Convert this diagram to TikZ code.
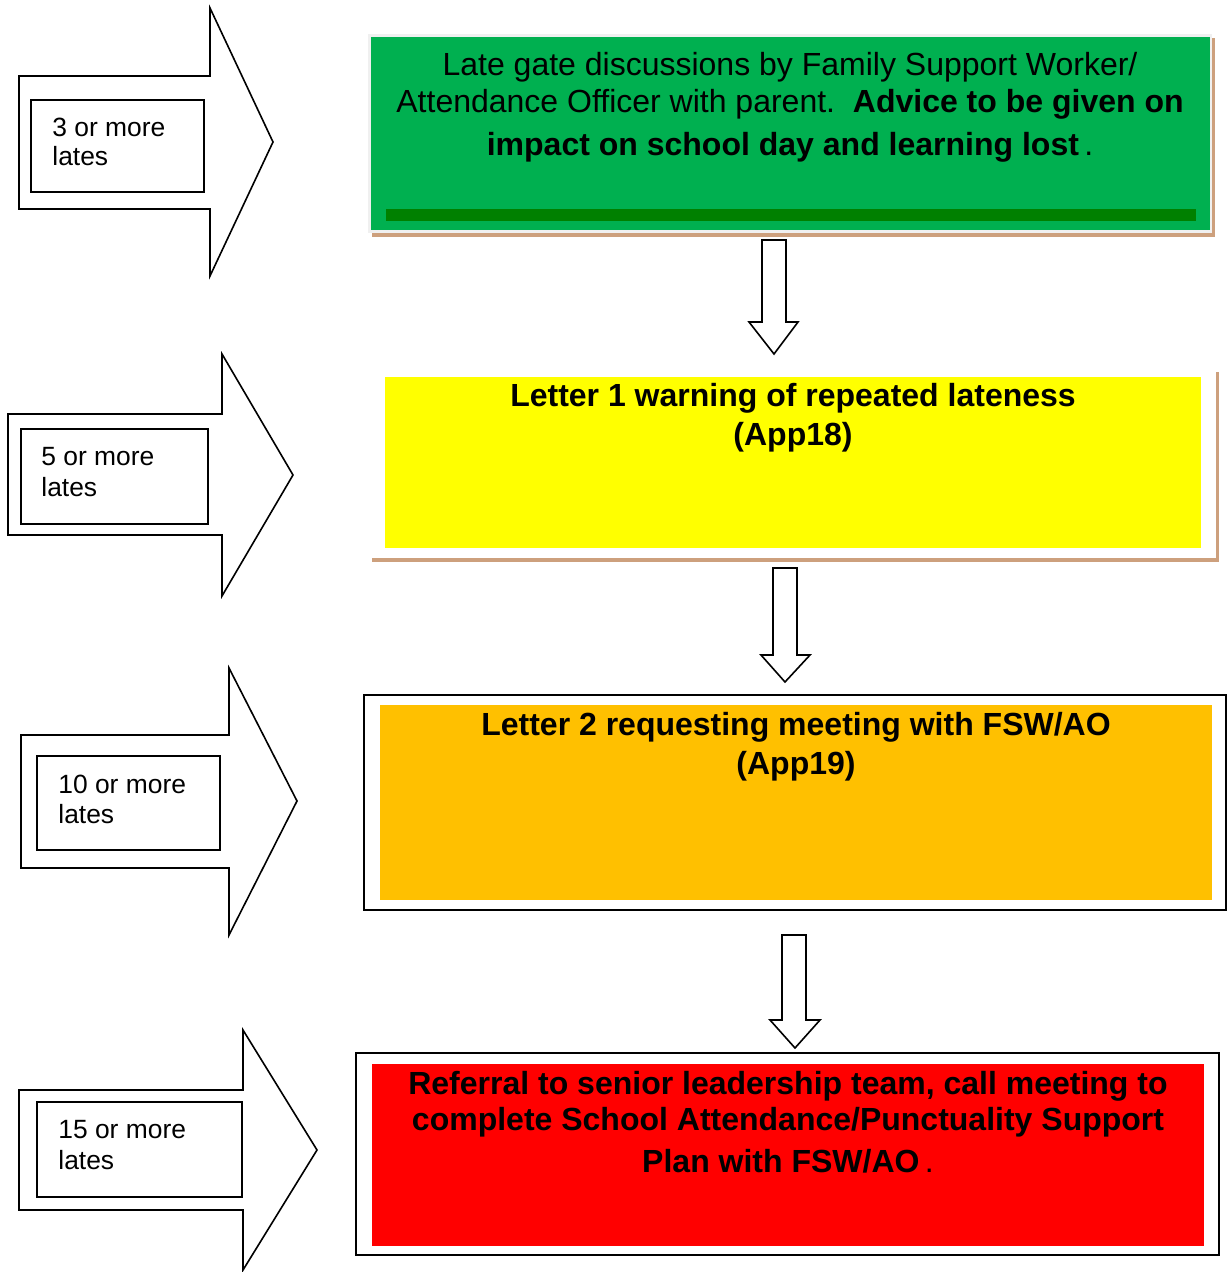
\documentclass[tikz,border=0pt]{standalone}
\usepackage{fontspec}
\setmainfont{Liberation Sans}
\definecolor{gfill}{HTML}{00B050}
\definecolor{gbar}{HTML}{008000}
\definecolor{tan}{HTML}{CDA07D}
\definecolor{ofill}{HTML}{FFC000}
\definecolor{yfill}{HTML}{FFFF00}
\begin{document}
\begin{tikzpicture}[x=0.5pt,y=-0.5pt,
  blockarrow/.style={draw=black,line width=0.8pt,fill=white,line join=miter},
  labelbox/.style={draw=black,line width=0.8pt,fill=white},
  smalltext/.style={anchor=base west,font=\fontsize{13.2}{15}\selectfont,inner sep=0pt},
  bigtext/.style={anchor=base,font=\fontsize{16}{19}\selectfont,inner sep=0pt},
  boldtext/.style={anchor=base,font=\fontsize{16}{19}\selectfont\bfseries,inner sep=0pt}]
\useasboundingbox (0,0) rectangle (1228,1272);

% ---- left block arrows ----
\draw[blockarrow] (19,76) -- (210,76) -- (210,8) -- (273,142) -- (210,276) -- (210,209) -- (19,209) -- cycle;
\draw[labelbox] (31,100) rectangle (204,192);
\node[smalltext] (l1a) at (52,137) {3 or more};
\node[smalltext] (l1b) at (52,166) {lates};

\draw[blockarrow] (8,414) -- (222,414) -- (222,354) -- (293,475) -- (222,596) -- (222,535) -- (8,535) -- cycle;
\draw[labelbox] (21,429) rectangle (208,524);
\node[smalltext] (l2a) at (41,466) {5 or more};
\node[smalltext] (l2b) at (41,496) {lates};

\draw[blockarrow] (21,735) -- (229,735) -- (229,668) -- (297,801) -- (229,935) -- (229,868) -- (21,868) -- cycle;
\draw[labelbox] (37,756) rectangle (220,850);
\node[smalltext] (l3a) at (58,793) {10 or more};
\node[smalltext] (l3b) at (58,823) {lates};

\draw[blockarrow] (19,1090) -- (243,1090) -- (243,1030) -- (317,1150) -- (243,1270) -- (243,1210) -- (19,1210) -- cycle;
\draw[labelbox] (37,1102) rectangle (242,1197);
\node[smalltext] (l4a) at (58,1138) {15 or more};
\node[smalltext] (l4b) at (58,1169) {lates};

% ---- green box ----
\fill[tan] (372,38) rectangle (1215,237);
\fill[black!6] (368,34) rectangle (1212,233);
\fill[gfill] (371,37) rectangle (1210,230);
\fill[gbar] (386,209) rectangle (1196,221);
\node[bigtext] (g1) at (790,76) {Late gate discussions by Family Support Worker/};
\node[bigtext] (g2) at (790,113) {Attendance Officer with parent.\ \ \textbf{Advice to be given on}};
\node[boldtext] (g3) at (790,156) {impact on school day and learning lost\,\mdseries.};

% ---- yellow box ----
\fill[tan] (372,558) rectangle (1219,562);
\fill[tan] (1216,372) rectangle (1219,562);
\fill[yfill] (385,377) rectangle (1201,548);
\node[boldtext] (y1) at (793,407) {Letter 1 warning of repeated lateness};
\node[boldtext] (y2) at (793,445) {(App18)};

% ---- orange box ----
\draw[black,line width=1pt] (364,695) rectangle (1226,910);
\fill[ofill] (380,705) rectangle (1212,900);
\node[boldtext] (o1) at (796,735) {Letter 2 requesting meeting with FSW/AO};
\node[boldtext] (o2) at (796,774) {(App19)};

% ---- red box ----
\draw[black,line width=1pt] (356,1053) rectangle (1219,1255);
\fill[red] (372,1064) rectangle (1204,1246);
\node[boldtext] (r1) at (788,1094) {Referral to senior leadership team, call meeting to};
\node[boldtext] (r2) at (788,1130) {complete School Attendance/Punctuality Support};
\node[boldtext] (r3) at (788,1172) {Plan with FSW/AO\,\mdseries.};

% ---- down block arrows ----
\draw[blockarrow] (762,240) -- (786,240) -- (786,322) -- (798,322) -- (774,354) -- (749,322) -- (762,322) -- cycle;
\draw[blockarrow] (773,568) -- (797,568) -- (797,655) -- (810,655) -- (785,682) -- (761,655) -- (773,655) -- cycle;
\draw[blockarrow] (782,935) -- (806,935) -- (806,1020) -- (820,1020) -- (795,1048) -- (770,1020) -- (782,1020) -- cycle;
\end{tikzpicture}
\end{document}
